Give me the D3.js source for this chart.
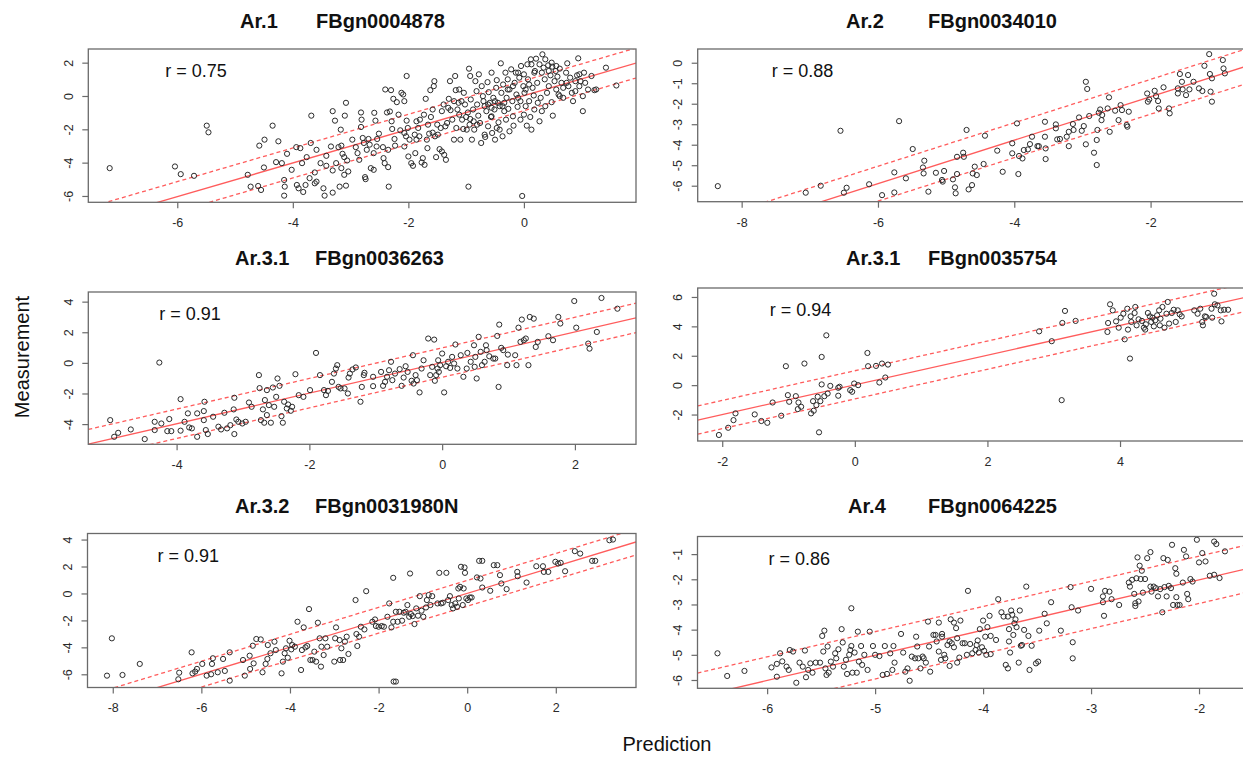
<!DOCTYPE html>
<html>
<head>
<meta charset="utf-8">
<script src="https://cdn.jsdelivr.net/npm/d3@7"></script>
<style>
  body { margin: 0; background: #fff; }
  svg { display: block; font-family: "Liberation Sans", Arial, sans-serif; }
</style>
</head>
<body>
<svg id="chart" width="1243" height="757"></svg>
<script>
// panel titles, r values and fit lines (measurement = slope * prediction + intercept, +/- band)
const panelLabels = ['Ar.1', 'Ar.2', 'Ar.3.1', 'Ar.3.1', 'Ar.3.2', 'Ar.4'];
const geneIds = ['FBgn0004878', 'FBgn0034010', 'FBgn0036263', 'FBgn0035754', 'FBgn0031980N', 'FBgn0064225'];
const rValues = [0.75, 0.88, 0.91, 0.94, 0.91, 0.86];
const fitSlope = [1.01, 1.06, 1.0, 1.01, 1.0, 1.0];
const fitIntercept = [0.02, 0.46, 0.02, 0.02, 0.01, -0.02];
const fitBand = [0.9, 0.85, 0.96, 0.96, 0.96, 0.94];

// axis ranges and tick labels
const xDomains = [[-7.54, 1.94], [-8.645, -0.6], [-5.33, 2.92], [-2.37, 5.9], [-8.57, 3.81], [-6.645, -1.565]];
const yDomains = [[-6.38, 2.82], [-6.78, 0.67], [-5.32, 4.63], [-3.8, 6.61], [-6.98, 4.45], [-6.33, -0.3]];
const xTicks = [[-6, -4, -2, 0], [-8, -6, -4, -2], [-4, -2, 0, 2], [-2, 0, 2, 4], [-8, -6, -4, -2, 0, 2], [-6, -5, -4, -3, -2]];
const yTicks = [[-6, -4, -2, 0, 2], [-6, -5, -4, -3, -2, -1, 0], [-4, -2, 0, 2, 4], [-2, 0, 2, 4, 6], [-6, -4, -2, 0, 2, 4], [-6, -5, -4, -3, -2, -1]];

// [prediction, measurement] pairs for each panel
const pointsAr1 = [[-7.17,-4.33],[-6.04,-4.23],[-5.94,-4.69],[-5.71,-4.79],[-5.49,-1.78],[-5.46,-2.18],[-4.78,-4.73],[-4.73,-5.44],[-4.60,-5.40],[-4.55,-5.64],[-4.58,-2.98],[-4.49,-2.62],[-4.50,-4.29],[-4.35,-1.78],[-4.29,-3.97],[-4.25,-2.72],[-4.19,-4.03],[-4.15,-5.04],[-4.14,-5.44],[-4.15,-5.98],[-4.10,-3.47],[-3.94,-3.07],[-3.87,-3.13],[-3.93,-5.34],[-3.90,-5.54],[-3.82,-5.76],[-3.78,-5.34],[-3.69,-2.82],[-3.68,-1.18],[-3.76,-3.67],[-3.71,-4.93],[-3.62,-4.59],[-3.62,-5.24],[-3.59,-5.14],[-3.52,-4.03],[-3.47,-5.54],[-3.45,-5.98],[-3.42,-3.59],[-3.42,-4.19],[-3.31,-0.91],[-3.27,-1.48],[-3.31,-4.47],[-3.31,-5.80],[-3.25,-4.03],[-3.21,-3.07],[-3.19,-5.44],[-3.16,-2.98],[-3.16,-4.33],[-3.14,-3.47],[-3.11,-3.67],[-3.11,-4.73],[-3.10,-1.18],[-3.08,-5.38],[-3.08,-0.41],[-3.06,-3.87],[-3.04,-4.53],[-3.17,-2.02],[-2.91,-3.07],[-2.88,-3.43],[-2.82,-0.99],[-2.81,-1.42],[-2.82,-1.86],[-2.79,-2.52],[-2.77,-2.82],[-2.75,-4.87],[-2.74,-4.99],[-2.72,-3.23],[-2.69,-2.58],[-2.67,-2.92],[-2.65,-4.33],[-2.60,-4.43],[-2.59,-1.01],[-2.57,-1.48],[-2.55,-3.03],[-2.54,-2.58],[-2.51,-2.26],[-2.44,-3.07],[-2.43,-3.73],[-2.41,-4.03],[-2.40,0.39],[-2.37,-0.99],[-2.35,-4.27],[-2.34,-5.44],[-2.32,-0.93],[-2.30,0.35],[-2.29,-1.52],[-2.28,-1.98],[-2.26,-0.17],[-2.24,-2.58],[-2.23,-2.98],[-2.20,-0.37],[-2.17,-1.12],[-2.14,-2.06],[-2.12,0.19],[-2.09,0.09],[-2.07,-2.22],[-2.07,-0.31],[-2.04,-2.42],[-2.03,1.20],[-2.03,-1.48],[-2.01,-1.92],[-2.00,-3.63],[-1.98,-2.62],[-1.95,-4.03],[-1.92,-4.19],[-1.89,-2.32],[-1.88,-3.43],[-1.86,-1.52],[-1.83,-1.92],[-1.81,-2.42],[-1.80,-1.42],[-1.77,-3.99],[-1.75,-3.73],[-1.72,-4.13],[-1.70,-0.17],[-1.68,-2.62],[-1.67,-3.13],[-1.66,-1.72],[-1.64,-2.26],[-1.62,0.35],[-1.61,-1.26],[-1.58,-2.20],[-1.56,0.59],[-1.55,0.89],[-1.54,-2.42],[-1.52,-3.67],[-1.50,-1.72],[-1.49,-2.32],[-1.46,-3.19],[-1.44,-1.92],[-1.42,-3.33],[-1.39,-0.51],[-1.38,-3.53],[-1.36,-1.82],[-1.35,-3.83],[-1.33,-1.62],[-1.31,-0.71],[-1.30,-0.17],[-1.28,0.89],[-1.27,-0.85],[-1.24,-1.42],[-1.21,-2.62],[-1.19,1.20],[-1.18,0.35],[-1.17,-1.92],[-1.15,-0.81],[-1.13,-0.41],[-1.12,-1.12],[-1.10,-2.62],[-1.08,-0.31],[-1.07,-1.42],[-1.05,-1.98],[-1.04,0.19],[-1.02,-0.51],[-1.00,-1.26],[-0.99,-2.02],[-0.97,-0.99],[-0.96,-5.44],[-0.95,1.64],[-0.94,-1.72],[-0.93,1.20],[-0.92,-0.21],[-0.90,-2.62],[-0.88,-0.81],[-0.87,-1.52],[-0.86,-2.02],[-0.84,0.89],[-0.82,0.29],[-0.81,-0.51],[-0.79,-1.18],[-0.78,1.30],[-0.76,-1.62],[-0.74,-2.82],[-0.73,0.59],[-0.71,-0.01],[-0.70,-0.31],[-0.68,-0.61],[-0.67,-2.46],[-0.65,-0.91],[-0.63,0.83],[-0.62,-1.82],[-0.61,0.23],[-0.59,-0.41],[-0.57,-1.26],[-0.56,1.40],[-0.55,-2.22],[-0.53,-0.11],[-0.51,-0.81],[-0.50,-2.62],[-0.48,0.49],[-0.47,0.95],[-0.45,-0.41],[-0.44,-1.58],[-0.42,-2.02],[-0.40,1.96],[-0.39,0.19],[-0.37,-0.61],[-0.36,0.69],[-0.34,-0.91],[-0.32,1.40],[-0.31,-1.42],[-0.30,-0.11],[-0.28,1.00],[-0.27,-0.77],[-0.25,0.39],[-0.22,1.60],[-0.20,-0.31],[-0.19,-1.22],[-0.18,-1.78],[-0.16,0.79],[-0.14,1.40],[-0.13,0.09],[-0.11,-0.65],[-0.10,1.40],[-0.08,1.10],[-0.06,-1.42],[-0.05,1.80],[-0.03,-6.00],[-0.01,0.59],[0.00,-1.12],[0.01,0.19],[0.03,-0.61],[0.05,-1.78],[0.06,1.90],[0.07,1.00],[0.09,-0.31],[0.11,-1.26],[0.12,2.20],[0.13,-2.02],[0.15,0.49],[0.17,0.03],[0.18,-0.81],[0.19,1.50],[0.21,2.24],[0.23,0.79],[0.24,-0.41],[0.27,1.90],[0.29,-0.11],[0.31,1.40],[0.32,2.50],[0.34,1.70],[0.36,1.00],[0.37,-0.61],[0.40,0.19],[0.42,1.84],[0.43,0.59],[0.46,1.24],[0.48,-0.37],[0.49,1.76],[0.50,-1.18],[0.53,0.89],[0.55,1.50],[0.56,0.39],[0.58,1.16],[0.60,0.09],[0.62,1.64],[0.65,0.79],[0.68,-0.11],[0.73,1.40],[0.75,1.96],[0.77,0.59],[0.80,1.10],[0.85,-0.31],[0.89,0.29],[0.92,1.24],[0.94,2.26],[0.96,0.59],[0.98,0.89],[1.02,-0.91],[1.04,1.40],[1.06,0.79],[1.11,0.39],[1.17,1.20],[1.22,0.35],[1.25,0.39],[1.42,1.70],[1.60,0.63],
  [-0.62,-0.51],[-0.56,-0.71],[-0.50,-0.31],[-0.42,-0.61],[-0.34,-0.41],[-0.56,-1.22],[-0.47,-1.92],[-0.37,-2.42],[-0.25,-2.12],[-0.68,-2.32],[-0.81,-1.72],[-0.93,-1.38],[0.13,1.90],[0.18,1.40],[0.37,2.20],[0.48,2.00],[0.56,1.80],[0.43,1.50],[0.09,0.69],[0.03,0.39],[-0.06,-0.31],[0.31,-0.91],[0.27,-1.52],[0.00,1.30],[0.74,0.79],[0.83,0.19],[0.96,1.30],[1.02,-0.01],[0.89,0.89],[0.68,0.49],[0.62,-0.01],[-0.10,-0.11],[-0.19,0.59],[-0.28,0.39],[-1.21,-0.31],[-1.12,0.39],[-1.42,-0.91],[-1.58,-0.81],[-1.73,-1.12],[-1.86,-2.62],[-2.07,-3.03],[-2.35,-3.23],[-2.60,-3.43],[-2.85,-3.83],[-2.97,-2.62],[-3.34,-3.03],[-3.59,-3.23],[-3.84,-4.03],[-4.02,-4.43]];

const pointsAr2 = [[-8.35,-6.02],[-7.06,-6.34],[-6.84,-6.0],[-6.55,-3.32],[-6.50,-6.34],[-6.46,-6.10],[-6.13,-5.93],[-5.94,-6.46],[-5.76,-5.35],[-5.76,-6.33],[-5.69,-2.85],[-5.59,-5.64],[-5.49,-4.21],[-5.34,-5.11],[-5.33,-5.40],[-5.32,-4.78],[-5.26,-6.29],[-5.15,-5.37],[-5.06,-5.72],[-5.05,-5.80],[-5.03,-5.28],[-4.90,-5.69],[-4.87,-6.08],[-4.86,-6.37],[-4.84,-5.43],[-4.84,-4.59],[-4.75,-4.39],[-4.74,-4.59],[-4.70,-3.28],[-4.67,-6.18],[-4.62,-5.97],[-4.61,-5.40],[-4.58,-5.07],[-4.55,-5.48],[-4.45,-4.94],[-4.43,-3.56],[-4.25,-4.29],[-4.17,-5.32],[-4.03,-3.93],[-4.03,-4.42],[-3.96,-2.96],[-3.94,-5.43],[-3.93,-4.55],[-3.88,-4.67],[-3.86,-4.26],[-3.80,-4.23],[-3.77,-3.97],[-3.74,-3.61],[-3.66,-4.07],[-3.64,-4.07],[-3.55,-2.88],[-3.55,-3.61],[-3.54,-4.18],[-3.54,-4.70],[-3.39,-3.01],[-3.37,-3.74],[-3.33,-3.72],[-3.39,-3.20],[-3.23,-3.61],[-3.20,-4.07],[-3.20,-3.37],[-3.14,-2.99],[-3.13,-3.28],[-3.05,-2.67],[-3.01,-3.32],[-2.98,-3.09],[-2.95,-0.93],[-2.93,-1.28],[-2.95,-3.98],[-2.90,-2.60],[-2.83,-4.39],[-2.79,-3.77],[-2.79,-4.99],[-2.78,-3.28],[-2.76,-2.44],[-2.74,-2.28],[-2.72,-2.80],[-2.71,-2.55],[-2.63,-2.23],[-2.61,-1.69],[-2.60,-3.37],[-2.52,-2.34],[-2.47,-2.80],[-2.44,-2.07],[-2.42,-2.31],[-2.35,-3.04],[-2.34,-3.12],[-2.32,-2.39],[-2.05,-1.50],[-2.04,-1.90],[-2.02,-1.79],[-1.94,-1.37],[-1.92,-1.63],[-1.89,-1.87],[-1.88,-2.23],[-1.81,-1.20],[-1.73,-2.23],[-1.72,-2.47],[-1.60,-1.25],[-1.60,-1.50],[-1.57,-0.55],[-1.54,-0.93],[-1.53,-1.30],[-1.48,-1.58],[-1.45,-0.60],[-1.43,-1.30],[-1.37,-0.93],[-1.29,-1.25],[-1.24,-1.38],[-1.21,-0.15],[-1.14,0.42],[-1.13,-0.55],[-1.12,-1.41],[-1.10,-1.90],[-1.10,-0.76],[-0.94,0.13],[-0.93,-0.28],[-0.91,-0.52]];

const pointsAr31a = [[-5.0,-3.74],[-4.94,-4.83],[-4.88,-4.57],[-4.69,-4.35],[-4.48,-4.98],[-4.33,-3.85],[-4.33,-4.39],[-4.26,0.02],[-4.23,-3.96],[-4.14,-4.46],[-4.11,-3.67],[-4.08,-4.46],[-3.94,-2.37],[-3.94,-4.43],[-3.88,-3.85],[-3.83,-3.30],[-3.81,-4.22],[-3.77,-4.28],[-3.69,-3.30],[-3.69,-4.83],[-3.59,-3.15],[-3.59,-3.74],[-3.58,-2.54],[-3.56,-4.39],[-3.53,-4.65],[-3.45,-3.52],[-3.37,-4.17],[-3.33,-4.35],[-3.28,-3.26],[-3.24,-4.28],[-3.19,-4.07],[-3.14,-3.04],[-3.13,-2.28],[-3.13,-4.65],[-3.10,-3.70],[-3.07,-3.85],[-3.01,-3.96],[-2.96,-3.85],[-2.91,-2.59],[-2.87,-2.87],[-2.76,-0.80],[-2.75,-1.65],[-2.73,-3.74],[-2.70,-3.04],[-2.68,-3.91],[-2.67,-2.43],[-2.64,-1.78],[-2.64,-3.41],[-2.61,-2.76],[-2.58,-3.91],[-2.55,-1.61],[-2.53,-2.87],[-2.50,-2.22],[-2.48,-1.02],[-2.45,-1.50],[-2.42,-3.48],[-2.40,-3.91],[-2.38,-2.54],[-2.34,-2.98],[-2.32,-2.72],[-2.28,-3.13],[-2.26,-2.87],[-2.21,-0.74],[-2.16,-2.11],[-2.09,-2.22],[-1.99,-1.78],[-1.90,0.65],[-1.84,-0.80],[-1.78,-1.78],[-1.75,-2.11],[-1.72,-1.83],[-1.66,-1.24],[-1.63,-0.70],[-1.60,-0.37],[-1.58,-0.15],[-1.56,-1.57],[-1.53,-1.67],[-1.47,-1.67],[-1.42,-2.0],[-1.41,-0.96],[-1.39,-0.70],[-1.35,-0.43],[-1.30,-0.30],[-1.23,-2.54],[-1.21,-1.57],[-1.18,-0.80],[-1.17,-0.65],[-1.04,-0.91],[-1.04,-1.52],[-0.92,-0.59],[-0.89,-1.50],[-0.86,-1.24],[-0.83,-0.91],[-0.80,-0.48],[-0.77,0.07],[-0.75,-1.13],[-0.71,-0.70],[-0.64,-0.41],[-0.61,-1.50],[-0.58,-0.96],[-0.55,-0.22],[-0.52,-0.59],[-0.46,-1.17],[-0.44,0.50],[-0.43,-1.35],[-0.40,-0.80],[-0.38,-1.13],[-0.34,-1.93],[-0.31,-0.37],[-0.28,0.17],[-0.21,1.59],[-0.18,-0.80],[-0.15,-0.26],[-0.12,1.52],[-0.11,-1.17],[-0.09,-0.80],[-0.07,-0.37],[-0.06,0.17],[-0.05,-0.59],[-0.03,-0.15],[0.0,0.61],[0.03,-1.93],[0.06,-0.22],[0.09,0.07],[0.12,-0.33],[0.15,0.39],[0.18,-0.04],[0.20,1.20],[0.23,-0.37],[0.28,0.50],[0.32,-0.91],[0.37,-0.37],[0.38,0.65],[0.43,0.07],[0.48,1.15],[0.49,-0.26],[0.50,0.39],[0.52,-1.02],[0.55,1.70],[0.58,0.72],[0.60,-0.15],[0.64,0.07],[0.66,1.15],[0.67,0.83],[0.71,0.43],[0.77,0.28],[0.80,0.28],[0.83,1.76],[0.85,-1.57],[0.86,2.50],[0.89,0.98],[0.92,0.83],[0.98,-0.15],[0.99,0.54],[1.10,0.50],[1.12,-0.15],[1.15,2.30],[1.18,1.37],[1.20,2.83],[1.23,1.48],[1.26,1.59],[1.30,-0.15],[1.32,3.0],[1.38,2.89],[1.41,1.04],[1.44,1.37],[1.60,1.74],[1.67,1.48],[1.75,3.0],[1.78,2.57],[1.99,4.04],[2.02,2.30],[2.20,1.26],[2.22,0.93],[2.33,2.02],[2.40,4.24],[2.64,3.54]];

const pointsAr31b = [[-2.05,-3.39],[-1.91,-2.90],[-1.83,-2.38],[-1.80,-1.92],[-1.51,-1.99],[-1.41,-2.44],[-1.32,-2.56],[-1.24,-1.18],[-1.11,-2.08],[-1.04,1.29],[-1.01,-0.68],[-0.99,-1.13],[-0.89,-0.75],[-0.86,-1.63],[-0.85,-1.18],[-0.81,-1.47],[-0.76,1.47],[-0.66,-1.92],[-0.63,-1.09],[-0.62,-1.74],[-0.58,-1.36],[-0.56,-0.79],[-0.54,-3.21],[-0.52,-1.09],[-0.50,1.92],[-0.50,0.05],[-0.46,-0.75],[-0.43,3.39],[-0.41,-0.57],[-0.37,-0.05],[-0.25,-0.72],[-0.25,-0.18],[-0.23,-0.11],[-0.07,-0.34],[-0.04,-0.45],[-0.01,0.11],[0.05,0.0],[0.19,2.19],[0.20,1.29],[0.32,1.31],[0.37,0.18],[0.41,1.47],[0.46,0.52],[0.50,1.40],[2.78,3.66],[2.97,2.99],[3.12,-1.02],[3.13,4.23],[3.17,5.05],[3.33,4.37],[3.81,3.62],[3.82,4.23],[3.85,5.50],[3.89,5.09],[3.94,4.34],[3.98,3.91],[4.01,4.59],[4.05,4.86],[4.07,3.12],[4.11,5.20],[4.12,3.78],[4.15,1.81],[4.16,4.68],[4.17,4.30],[4.22,4.91],[4.23,5.32],[4.25,4.07],[4.28,4.48],[4.33,4.37],[4.36,3.91],[4.38,3.78],[4.39,4.14],[4.42,4.91],[4.45,4.68],[4.47,4.30],[4.49,4.59],[4.51,4.00],[4.53,4.41],[4.56,4.75],[4.59,5.09],[4.60,4.07],[4.61,4.52],[4.64,5.32],[4.67,3.91],[4.70,4.86],[4.72,5.66],[4.74,4.19],[4.78,4.91],[4.81,5.13],[4.84,4.30],[4.87,5.09],[4.90,4.82],[4.93,4.68],[5.12,5.09],[5.17,4.86],[5.21,5.20],[5.24,4.30],[5.25,4.07],[5.28,4.68],[5.30,4.64],[5.38,5.20],[5.39,4.59],[5.42,6.22],[5.43,5.50],[5.47,5.43],[5.52,5.09],[5.53,4.34],[5.57,5.13],[5.63,5.13]];

const pointsAr32 = [[-8.13,-6.10],[-8.02,-3.33],[-7.78,-6.05],[-7.39,-5.23],[-6.52,-6.37],[-6.50,-5.88],[-6.22,-4.37],[-6.20,-5.93],[-6.14,-5.80],[-6.10,-5.60],[-5.98,-5.23],[-5.88,-6.10],[-5.78,-6.0],[-5.76,-5.23],[-5.74,-4.81],[-5.63,-5.85],[-5.51,-4.86],[-5.47,-5.75],[-5.36,-4.37],[-5.36,-6.47],[-5.06,-4.94],[-5.02,-6.10],[-4.91,-4.62],[-4.90,-5.60],[-4.84,-3.88],[-4.82,-5.19],[-4.76,-3.38],[-4.66,-3.41],[-4.62,-5.85],[-4.55,-5.23],[-4.51,-4.86],[-4.50,-3.83],[-4.44,-4.44],[-4.35,-3.58],[-4.32,-4.20],[-4.19,-5.93],[-4.16,-5.06],[-4.12,-4.44],[-4.09,-4.07],[-4.05,-4.77],[-4.01,-3.51],[-3.97,-4.15],[-3.95,-3.83],[-3.89,-3.95],[-3.83,-2.10],[-3.75,-5.68],[-3.73,-4.20],[-3.69,-2.52],[-3.65,-4.0],[-3.61,-3.90],[-3.57,-1.16],[-3.54,-4.94],[-3.49,-4.94],[-3.45,-4.32],[-3.41,-5.06],[-3.37,-2.17],[-3.33,-3.33],[-3.30,-5.43],[-3.29,-3.95],[-3.24,-4.57],[-3.20,-3.33],[-3.16,-3.95],[-3.0,-5.06],[-2.98,-3.33],[-2.96,-2.52],[-2.88,-3.46],[-2.87,-4.94],[-2.84,-4.07],[-2.80,-4.94],[-2.76,-3.58],[-2.72,-3.21],[-2.68,-4.49],[-2.52,-0.49],[-2.50,-3.01],[-2.48,-3.90],[-2.44,-3.21],[-2.40,-2.47],[-2.32,-2.67],[-2.28,0.17],[-2.14,-2.10],[-2.08,-1.93],[-2.06,-2.42],[-2.0,-2.47],[-1.93,-2.42],[-1.88,-2.47],[-1.80,-1.73],[-1.76,-0.74],[-1.71,-2.52],[-1.67,1.16],[-1.67,-2.10],[-1.66,-6.54],[-1.61,-6.54],[-1.61,-1.36],[-1.57,-2.10],[-1.53,-1.36],[-1.47,-2.02],[-1.43,-1.43],[-1.39,-1.36],[-1.35,-0.86],[-1.31,-1.73],[-1.29,1.48],[-1.27,-1.53],[-1.23,-1.68],[-1.19,-2.27],[-1.15,-1.11],[-1.11,-1.65],[-1.07,-0.20],[-1.03,-1.28],[-0.99,-1.73],[-0.93,-1.04],[-0.91,-0.49],[-0.87,-0.12],[-0.83,-0.86],[-0.79,-0.20],[-0.67,-0.74],[-0.63,1.53],[-0.59,-0.74],[-0.55,-0.69],[-0.47,1.53],[-0.43,-0.49],[-0.39,-0.20],[-0.35,-0.86],[-0.32,-1.11],[-0.27,-0.74],[-0.23,-0.99],[-0.20,0.37],[-0.19,-0.37],[-0.16,0.49],[-0.14,1.98],[-0.10,-0.86],[-0.08,0.37],[-0.06,1.93],[-0.05,1.53],[-0.02,-0.37],[0.02,-0.49],[0.06,-0.30],[0.10,-0.30],[0.22,1.19],[0.27,2.42],[0.34,2.42],[0.30,1.11],[0.34,0.44],[0.52,0.20],[0.60,2.10],[0.68,2.10],[0.74,1.36],[0.77,0.74],[0.89,0.32],[1.13,1.60],[1.14,1.28],[1.34,0.81],[1.56,2.02],[1.71,2.02],[1.73,1.60],[1.83,1.60],[1.99,2.35],[2.05,2.22],[2.11,2.27],[2.21,1.65],[2.43,3.14],[2.55,2.96],[2.82,2.42],[2.89,2.42],[3.21,3.95],[3.29,4.0]];

const pointsAr4 = [[-6.46,-4.94],[-6.37,-5.84],[-6.21,-5.64],[-5.96,-5.50],[-5.91,-5.87],[-5.91,-5.36],[-5.88,-4.94],[-5.86,-5.26],[-5.82,-5.47],[-5.80,-5.60],[-5.79,-4.81],[-5.76,-4.87],[-5.73,-6.11],[-5.70,-5.31],[-5.67,-5.47],[-5.65,-4.83],[-5.64,-5.89],[-5.62,-5.60],[-5.60,-5.34],[-5.58,-5.71],[-5.55,-5.31],[-5.51,-5.31],[-5.49,-4.25],[-5.48,-4.87],[-5.47,-4.04],[-5.46,-5.54],[-5.45,-5.80],[-5.44,-4.67],[-5.43,-5.71],[-5.41,-5.27],[-5.39,-5.47],[-5.37,-4.94],[-5.36,-5.14],[-5.34,-4.78],[-5.31,-3.98],[-5.30,-4.51],[-5.29,-5.47],[-5.27,-5.20],[-5.26,-5.76],[-5.24,-5.0],[-5.23,-4.81],[-5.22,-3.15],[-5.22,-4.65],[-5.21,-5.71],[-5.19,-4.91],[-5.17,-5.71],[-5.16,-4.08],[-5.15,-5.27],[-5.13,-4.65],[-5.12,-5.40],[-5.10,-5.0],[-5.07,-5.60],[-5.05,-4.08],[-5.02,-4.65],[-5.0,-5.0],[-4.96,-5.05],[-4.93,-5.80],[-4.91,-4.65],[-4.89,-5.76],[-4.86,-4.94],[-4.84,-5.60],[-4.83,-4.65],[-4.82,-5.31],[-4.76,-4.17],[-4.74,-4.91],[-4.72,-5.67],[-4.70,-5.54],[-4.68,-6.03],[-4.66,-5.07],[-4.63,-5.14],[-4.62,-4.28],[-4.61,-4.67],[-4.60,-5.14],[-4.58,-5.54],[-4.56,-5.07],[-4.55,-5.14],[-4.53,-5.31],[-4.51,-3.68],[-4.50,-4.67],[-4.49,-5.67],[-4.46,-4.21],[-4.44,-4.21],[-4.43,-4.47],[-4.41,-3.72],[-4.41,-4.87],[-4.39,-5.20],[-4.38,-4.28],[-4.38,-4.17],[-4.36,-5.0],[-4.35,-5.14],[-4.33,-4.61],[-4.31,-4.47],[-4.31,-5.44],[-4.30,-3.59],[-4.29,-4.54],[-4.27,-3.72],[-4.27,-4.70],[-4.25,-3.94],[-4.24,-5.31],[-4.24,-4.34],[-4.22,-5.11],[-4.21,-3.64],[-4.19,-4.54],[-4.17,-4.54],[-4.15,-5.0],[-4.14,-2.46],[-4.12,-4.57],[-4.10,-4.94],[-4.07,-4.81],[-4.06,-4.61],[-4.05,-4.43],[-4.04,-4.91],[-4.03,-3.98],[-4.01,-4.70],[-4.0,-3.64],[-3.99,-4.84],[-3.98,-4.28],[-3.97,-5.0],[-3.96,-3.90],[-3.94,-3.45],[-3.93,-4.25],[-3.93,-4.97],[-3.88,-4.41],[-3.86,-2.79],[-3.83,-3.31],[-3.81,-3.48],[-3.79,-5.40],[-3.77,-5.54],[-3.77,-3.48],[-3.76,-3.98],[-3.76,-4.47],[-3.75,-4.91],[-3.74,-3.24],[-3.73,-3.41],[-3.72,-4.21],[-3.71,-3.75],[-3.70,-3.59],[-3.69,-3.90],[-3.67,-5.31],[-3.66,-3.24],[-3.65,-4.64],[-3.64,-4.61],[-3.62,-4.01],[-3.60,-2.29],[-3.58,-4.25],[-3.57,-5.60],[-3.55,-4.64],[-3.51,-5.34],[-3.49,-5.27],[-3.48,-4.04],[-3.43,-3.37],[-3.41,-3.75],[-3.37,-2.91],[-3.28,-4.04],[-3.19,-2.31],[-3.18,-3.11],[-3.17,-4.50],[-3.17,-5.14],[-3.12,-3.24],[-3.0,-2.38],[-2.89,-2.68],[-2.89,-2.91],[-2.88,-3.45],[-2.87,-2.46],[-2.83,-2.49],[-2.81,-2.79],[-2.74,-3.02],[-2.65,-2.13],[-2.64,-2.29],[-2.62,-2.02],[-2.60,-2.58],[-2.59,-3.06],[-2.59,-2.95],[-2.58,-1.96],[-2.57,-1.13],[-2.56,-2.88],[-2.55,-1.46],[-2.54,-1.99],[-2.53,-1.66],[-2.52,-2.53],[-2.50,-1.99],[-2.48,-1.16],[-2.45,-2.29],[-2.45,-0.92],[-2.44,-2.49],[-2.42,-2.29],[-2.40,-2.35],[-2.38,-2.68],[-2.36,-2.39],[-2.34,-3.31],[-2.33,-1.16],[-2.32,-2.31],[-2.30,-2.68],[-2.29,-1.23],[-2.28,-2.26],[-2.26,-2.35],[-2.25,-0.63],[-2.24,-3.02],[-2.22,-1.56],[-2.21,-1.78],[-2.21,-2.71],[-2.20,-3.02],[-2.18,-3.02],[-2.15,-2.13],[-2.14,-0.83],[-2.12,-1.09],[-2.11,-2.58],[-2.10,-2.79],[-2.08,-1.99],[-2.06,-2.09],[-2.02,-0.43],[-2.0,-1.33],[-1.97,-0.96],[-1.94,-1.29],[-1.90,-1.86],[-1.86,-1.82],[-1.86,-0.50],[-1.84,-0.60],[-1.81,-1.95],[-1.76,-0.89]];

const pointSets = [pointsAr1, pointsAr2, pointsAr31a, pointsAr31b, pointsAr32, pointsAr4];

// plot box of each panel in page pixels
const boxes = [
  { left: 88.3, top: 49, right: 636, bottom: 202.3 },
  { left: 697.7, top: 49, right: 1246, bottom: 201.7 },
  { left: 88.3, top: 292, right: 636, bottom: 444.3 },
  { left: 697.7, top: 288, right: 1246, bottom: 441 },
  { left: 87.5, top: 533.5, right: 636, bottom: 687.5 },
  { left: 697.5, top: 536.5, right: 1246, bottom: 688.3 },
];
// title parts and r label placement
const titleLayout = [
  { arX: 240, geneX: 316, y: 28 },
  { arX: 846, geneX: 928, y: 28 },
  { arX: 235, geneX: 315, y: 265 },
  { arX: 846, geneX: 928, y: 265 },
  { arX: 235, geneX: 315, y: 513 },
  { arX: 848, geneX: 928, y: 513 },
];
const rOffsetX = [77, 74, 71, 72, 70, 71];

const boxColor = '#6a6a6a';
const textColor = '#2a2a2a';
const fitColor = '#ff5c5c';

const svg = d3.select('#chart');
const defs = svg.append('defs');

function drawPanel(i) {
  const box = boxes[i];
  const x = d3.scaleLinear().domain(xDomains[i]).range([box.left, box.right]);
  const y = d3.scaleLinear().domain(yDomains[i]).range([box.bottom, box.top]);
  const g = svg.append('g').attr('class', `panel panel-${i}`);

  defs.append('clipPath').attr('id', `clip${i}`)
    .append('rect')
    .attr('x', box.left).attr('y', box.top)
    .attr('width', box.right - box.left).attr('height', box.bottom - box.top);

  // fit line and the two dashed band lines
  const [x0, x1] = xDomains[i];
  const fit = (v, k) => fitSlope[i] * v + fitIntercept[i] + k * fitBand[i];
  const fitLines = g.append('g').attr('clip-path', `url(#clip${i})`);
  [[0, null], [1, '4,3'], [-1, '4,3']].forEach(([k, dash]) => {
    fitLines.append('line')
      .attr('x1', x(x0)).attr('y1', y(fit(x0, k)))
      .attr('x2', x(x1)).attr('y2', y(fit(x1, k)))
      .attr('stroke', fitColor)
      .attr('stroke-width', 1.3)
      .attr('stroke-dasharray', dash);
  });

  // open circles
  g.append('g')
    .selectAll('circle')
    .data(pointSets[i])
    .join('circle')
    .attr('cx', d => x(d[0]))
    .attr('cy', d => y(d[1]))
    .attr('r', 2.6)
    .attr('fill', 'none')
    .attr('stroke', '#2b2b2b')
    .attr('stroke-width', 1);

  // box
  g.append('rect')
    .attr('x', box.left).attr('y', box.top)
    .attr('width', box.right - box.left).attr('height', box.bottom - box.top)
    .attr('fill', 'none')
    .attr('stroke', boxColor)
    .attr('stroke-width', 1.3);

  // x axis
  const xAxis = g.append('g')
    .attr('transform', `translate(0,${box.bottom})`)
    .call(d3.axisBottom(x).tickValues(xTicks[i]).tickSize(6).tickPadding(10).tickFormat(d => String(d)));
  // y axis, labels parallel to the axis as R does
  const yAxis = g.append('g')
    .attr('transform', `translate(${box.left},0)`)
    .call(d3.axisLeft(y).tickValues(yTicks[i]).tickSize(6).tickFormat(d => String(d)));
  yAxis.selectAll('.tick text')
    .attr('x', null).attr('dy', null)
    .attr('text-anchor', 'middle')
    .attr('transform', 'translate(-15.5,0) rotate(-90)');

  [xAxis, yAxis].forEach((ax) => {
    ax.attr('font-family', null).attr('font-size', 12.5);
    ax.select('.domain').remove();
    ax.selectAll('.tick line').attr('stroke', boxColor).attr('stroke-width', 1.2);
    ax.selectAll('.tick text').attr('fill', textColor);
  });

  // title in two parts
  const t = titleLayout[i];
  const title = g.append('text')
    .attr('y', t.y)
    .attr('font-size', 20)
    .attr('font-weight', 'bold')
    .attr('fill', '#111');
  title.append('tspan').attr('x', t.arX).text(panelLabels[i]);
  title.append('tspan').attr('x', t.geneX).text(geneIds[i]);

  // correlation label
  g.append('text')
    .attr('x', box.left + rOffsetX[i])
    .attr('y', box.top + 28)
    .attr('font-size', 18)
    .attr('fill', '#111')
    .text(`r = ${rValues[i].toFixed(2)}`);
}

d3.range(pointSets.length).forEach(drawPanel);

// shared axis titles
svg.append('text')
  .attr('transform', 'translate(29,357) rotate(-90)')
  .attr('text-anchor', 'middle')
  .attr('font-size', 20)
  .attr('fill', '#111')
  .text('Measurement');

svg.append('text')
  .attr('x', 667)
  .attr('y', 751)
  .attr('text-anchor', 'middle')
  .attr('font-size', 20)
  .attr('fill', '#111')
  .text('Prediction');
</script>
</body>
</html>
